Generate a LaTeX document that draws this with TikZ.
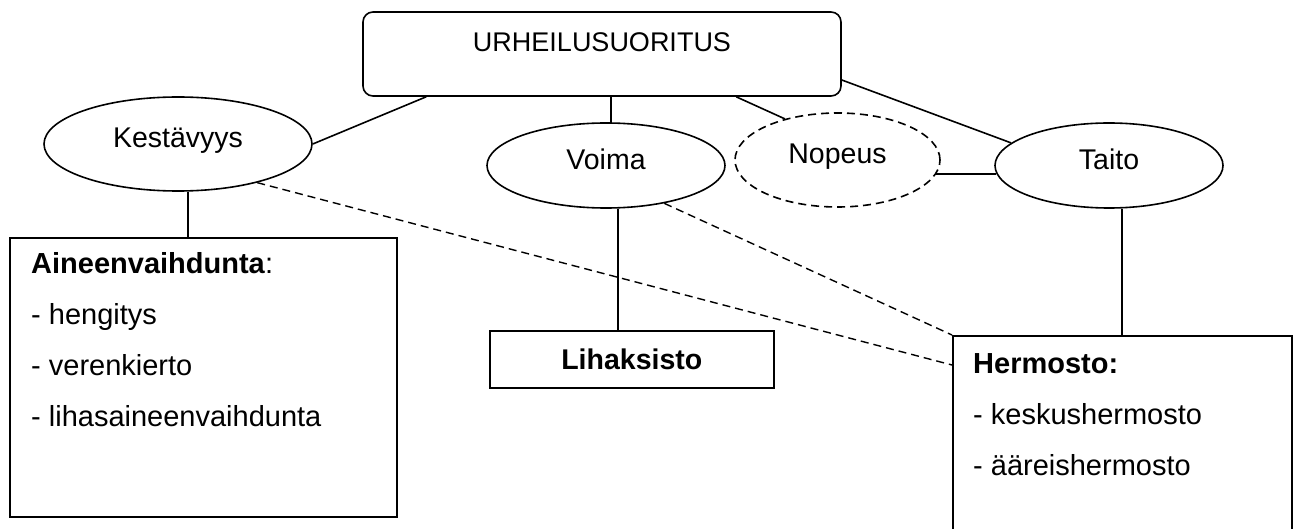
\documentclass[tikz,border=0pt]{standalone}
\usepackage{fontspec}
\setmainfont{Liberation Sans}
\usetikzlibrary{shapes.geometric,calc}
\tikzset{%
            base/.style = {draw=black, line width=1.6pt, inner sep=0pt,
                           font=\fontsize{28.5}{51}\selectfont},
  rbox/.style = {base, rectangle, rounded corners=10pt,
                 minimum width=478pt, minimum height=84pt,
                 font=\fontsize{27}{32}\selectfont},
  sbox/.style = {base, rectangle, anchor=north west},
  oval/.style = {base, ellipse, text height=20pt, text depth=12pt},
  dashoval/.style = {oval, dash pattern=on 8pt off 5pt},
  txt/.style = {inner sep=0pt, align=left, anchor=north west,
                font=\fontsize{29}{51}\selectfont},
  link/.style = {line width=1.6pt},
  dlink/.style = {link, line width=1.4pt, dash pattern=on 8pt off 5pt},
}
\begin{document}
\begin{tikzpicture}[x=1pt, y=-1pt]
  \useasboundingbox (0,0) rectangle (1297,529);

  \node (onUrheilu)   [rbox, text height=40pt, text depth=44pt] at (602,54) {URHEILUSUORITUS};
  \node (onKestavyys) [oval, minimum width=268pt, minimum height=94pt]  at (178,144)    {Kestävyys};
  \node (onVoima)     [oval, minimum width=238pt, minimum height=85pt]  at (606,165.5)  {Voima};
  \node (onNopeus)    [dashoval, minimum width=205pt, minimum height=94pt] at (837.5,160) {Nopeus};
  \node (onTaito)     [oval, minimum width=228pt, minimum height=85pt]  at (1109,165.5) {Taito};

  \node (onAine)   [sbox, minimum width=387pt, minimum height=279pt] at (9,237) {};
  \node (onAine_)  [txt] at (31,252)
  {\textbf{Aineenvaihdunta}: \\
   - hengitys \\
   - verenkierto \\
   - lihasaineenvaihdunta};
  \node (onLiha)   [sbox, minimum width=284pt, minimum height=57pt] at (489,330) {\textbf{Lihaksisto}};
  \node (onHermo)  [sbox, minimum width=339pt, minimum height=210pt] at (952,335) {};
  \node (onHermo_) [txt] at (973,353)
  {\textbf{Hermosto:} \\
   - keskushermosto \\
   - ääreishermosto};

  \draw[link]  ($(onUrheilu.south west)+(64,0)$)  -- (onKestavyys.east);
  \draw[link]  ([xshift=5pt]onVoima.north)        -- ([xshift=5pt]onVoima.north |- onUrheilu.south);
  \draw[link]  ($(onUrheilu.south west)+(374,0)$) -- (onNopeus.142);
  \draw[link]  ($(onUrheilu.east)+(0,26)$)        -- (onTaito.167);
  \draw[link]  (onNopeus.-8) -- (onNopeus.-8 -| onTaito.184);
  \draw[link]  ([xshift=10pt]onKestavyys.south)   -- ([xshift=10pt]onKestavyys.south |- onAine.north);
  \draw[link]  ([xshift=12pt]onVoima.south)       -- ([xshift=12pt]onVoima.south |- onLiha.north);
  \draw[link]  ([xshift=13pt]onTaito.south)       -- ([xshift=13pt]onTaito.south |- onHermo.north);
  \draw[dlink] (onKestavyys.-26) -- ($(onHermo.north west)+(0,30)$);
  \draw[dlink] (onVoima.-33)     -- (onHermo.north west);
\end{tikzpicture}
\end{document}
